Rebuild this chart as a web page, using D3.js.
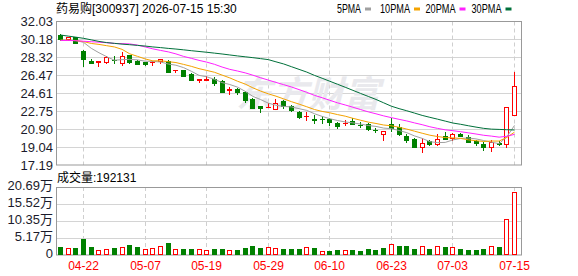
<!DOCTYPE html>
<html>
<head>
<meta charset="utf-8">
<script src="https://cdn.jsdelivr.net/npm/d3@7"></script>
<style>
  body { margin: 0; background: #fff; }
  svg text { font-family: Arial, "Liberation Sans", "Noto Sans CJK SC", sans-serif; }
</style>
</head>
<body>
<svg id="chart" width="578" height="276"></svg>
<script>
// trading days shown (60 candles)
const dates = ['04-17','04-20','04-21','04-22','04-23','04-24','04-27','04-28','04-29','04-30',
  '05-06','05-07','05-08','05-11','05-12','05-13','05-14','05-15','05-18','05-19',
  '05-20','05-21','05-22','05-25','05-26','05-27','05-28','05-29','06-01','06-02',
  '06-03','06-04','06-05','06-08','06-09','06-10','06-11','06-12','06-15','06-16',
  '06-17','06-18','06-22','06-23','06-24','06-25','06-26','06-29','06-30','07-01',
  '07-02','07-03','07-06','07-07','07-08','07-09','07-10','07-13','07-14','07-15'];

const opens  = [30.60,30.17,30.41,29.00,27.98,27.86,27.88,28.05,27.73,28.53,
  27.98,27.85,27.84,27.98,27.90,26.97,26.98,26.55,26.00,26.03,
  26.05,25.85,24.97,25.02,24.74,24.06,23.27,23.15,23.03,23.79,
  23.27,22.68,22.25,21.92,21.94,21.93,21.50,21.52,21.72,21.33,
  21.38,20.80,20.35,21.38,21.07,20.18,19.84,19.08,19.63,19.32,
  20.18,19.94,20.38,20.10,19.66,19.36,19.02,19.43,19.32,22.31];
const highs  = [30.76,30.45,30.45,29.05,28.15,27.92,28.42,28.50,28.83,28.60,
  28.00,27.88,27.90,28.20,28.00,27.00,27.05,26.70,26.08,26.40,
  26.25,25.95,25.26,25.20,24.80,24.13,23.27,23.55,23.99,23.89,
  23.44,22.75,22.68,22.34,22.24,22.06,21.65,21.83,22.06,21.59,
  21.52,21.03,20.72,22.00,21.48,20.38,19.98,19.94,19.77,20.38,
  20.62,20.52,20.45,20.28,19.77,19.60,19.77,19.66,23.14,26.80];
const lows   = [30.00,30.05,29.73,27.32,27.60,27.36,27.67,27.67,27.46,27.60,
  27.58,27.46,27.46,27.60,26.74,26.70,26.40,25.95,25.70,25.85,
  25.35,24.70,24.47,24.47,23.60,22.96,22.52,23.15,22.86,23.03,
  22.68,21.93,21.76,21.38,21.40,21.24,20.87,21.24,21.31,20.98,
  20.69,20.46,19.70,20.62,20.18,19.43,19.04,18.46,19.15,19.15,
  19.77,19.70,20.10,19.43,19.15,18.67,18.56,19.15,18.97,22.31];
const closes = [30.20,30.38,29.83,28.15,27.73,27.90,28.35,28.00,28.45,27.88,
  27.62,27.68,27.88,28.15,26.85,26.99,26.43,26.00,26.05,26.08,
  25.70,24.74,25.00,24.71,23.89,23.10,23.08,23.17,23.61,23.27,
  22.86,22.17,22.28,21.88,21.90,21.65,21.24,21.55,21.38,21.30,
  20.90,20.76,20.70,21.06,20.38,19.77,19.08,19.43,19.35,19.90,
  19.87,20.38,20.18,19.59,19.43,19.02,19.53,19.40,23.14,25.33];
const volumes = [25400,20300,21300,48700,24300,14200,18300,21300,23300,30400,
  24300,18300,20300,27400,36500,18300,18300,18300,18300,15200,
  18300,18300,14200,15200,20300,27400,22300,24300,21300,18300,
  18300,18300,24300,20300,11200,12200,15200,14200,15200,12200,
  18300,15200,20300,34500,27400,27400,18300,26400,18300,26400,
  24300,23300,18300,15200,15200,18300,26400,24300,109500,192131];

const ma5Head  = [30.09,30.09,30.07,29.87];
const ma10Head = [30.10,30.09,30.05,29.95,29.76,29.66,29.53,29.40,29.15];
const ma20Head = [30.07,30.07,30.04,29.99,29.94,29.89,29.84,29.76,29.74,29.71,
  29.59,29.40,29.20,29.04,28.89,28.68,28.42,28.22,28.01];
// the 30PMA line does not follow the visible closes, so it is read off the chart in full
const ma30Values = [30.63,30.52,30.41,30.29,30.13,29.97,29.85,29.77,29.69,29.63,
  29.56,29.49,29.40,29.33,29.25,29.18,29.10,29.01,28.93,28.85,
  28.76,28.67,28.57,28.47,28.38,28.29,28.19,28.09,27.86,27.64,
  27.36,27.08,26.80,26.46,26.16,25.85,25.54,25.23,24.91,24.59,
  24.28,23.97,23.62,23.27,23.02,22.80,22.56,22.32,22.12,21.93,
  21.73,21.53,21.40,21.25,21.11,20.98,20.90,20.87,20.84,20.81];

const priceTicks = [17.19,19.04,20.90,22.75,24.61,26.47,28.32,30.18,32.03];
const volTicks = [0,51700,103500,155200,206900];
const volTickLabels = ['0','5.17万','10.35万','15.52万','20.69万'];
const xTickLabels = ['04-22','05-07','05-19','05-29','06-10','06-23','07-03','07-15'];
const maNames = ['5PMA','10PMA','20PMA','30PMA'];
const maColors = ['#a0a0a0','#f4a300','#ff20ff','#00703a'];

const RED = '#ff0000', GREEN = '#008000';

function movingAvg(n, head) {
  return closes.map((c, i) => i < head.length ? head[i] : d3.mean(closes.slice(i - n + 1, i + 1)));
}
const maSeries = [movingAvg(5, ma5Head), movingAvg(10, ma10Head), movingAvg(20, ma20Head), ma30Values];

const svg = d3.select('#chart');
const L = 56, R = 522;
const x = d3.scalePoint().domain(dates).range([60, 514]);
const y = d3.scaleLinear().domain([17.19, 32.03]).range([165, 21.5]);
const yv = d3.scaleLinear().domain([0, 206900]).range([255, 187]);
const px = d => Math.round(x(d));

// title + legend
svg.append('text').attr('x', 56).attr('y', 13).attr('font-size', 12).attr('fill', '#000')
  .text('药易购[300937] 2026-07-15 15:30');
const legX = [337, 380, 425.5, 471.5];
maNames.forEach((n, i) => {
  svg.append('text').attr('x', legX[i]).attr('y', 13).attr('font-size', 12)
    .attr('textLength', n.length * 6).attr('lengthAdjust', 'spacingAndGlyphs').text(n);
  svg.append('rect').attr('x', legX[i] + n.length * 6 + 4).attr('y', 7.5)
    .attr('width', 6).attr('height', 3).attr('fill', maColors[i]);
});

// grids
const grid = svg.append('g');
priceTicks.slice(1, -1).forEach(t => {
  grid.append('line').attr('x1', L).attr('x2', R)
    .attr('y1', Math.round(y(t)) + 0.5).attr('y2', Math.round(y(t)) + 0.5)
    .attr('stroke', '#d4d4d4');
});
volTicks.slice(1, -1).forEach(t => {
  grid.append('line').attr('x1', L).attr('x2', R)
    .attr('y1', Math.round(yv(t)) + 0.5).attr('y2', Math.round(yv(t)) + 0.5)
    .attr('stroke', '#d4d4d4');
});
xTickLabels.forEach(d => {
  [[21.5, 165], [187, 255]].forEach(([a, b]) => {
    grid.append('line').attr('x1', px(d) + 0.5).attr('x2', px(d) + 0.5)
      .attr('y1', a).attr('y2', b).attr('stroke', '#cfcfcf').attr('stroke-dasharray', '4,3');
  });
});

// frames
svg.append('rect').attr('x', L + 0.5).attr('y', 21.5).attr('width', R - L - 1).attr('height', 143.5)
  .attr('fill', 'none').attr('stroke', '#999');
svg.append('rect').attr('x', L + 0.5).attr('y', 187.5).attr('width', R - L - 1).attr('height', 67.5)
  .attr('fill', 'none').attr('stroke', '#999');

// watermark
svg.append('text').attr('x', 236).attr('y', 107).attr('font-size', 36).attr('font-weight', 'bold')
  .attr('font-family', '"Noto Sans CJK SC"').attr('fill', '#e9e9ed')
  .attr('font-style', 'italic').text('东方财富');

// axis labels
svg.append('g').selectAll('text').data(priceTicks).join('text')
  .attr('x', 53).attr('y', d => y(d)).attr('dy', '0.36em').attr('text-anchor', 'end')
  .attr('font-size', 13).attr('fill', '#1b1b2b').text(d => d.toFixed(2));
svg.append('g').selectAll('text').data(volTicks).join('text')
  .attr('x', 53).attr('y', d => yv(d) - 1.5).attr('dy', '0.36em').attr('text-anchor', 'end')
  .attr('font-size', 13).attr('fill', '#1b1b2b').text((d, i) => volTickLabels[i]);
svg.append('g').selectAll('text').data(xTickLabels).join('text')
  .attr('x', d => px(d) + 0.5).attr('y', 270).attr('text-anchor', 'middle')
  .attr('font-size', 12).attr('fill', RED).text(d => d);
svg.append('text').attr('x', 57).attr('y', 182).attr('font-size', 12).attr('fill', '#000')
  .text('成交量:' + volumes[volumes.length - 1]);

// candles
const rising = (i) => closes[i] > opens[i] || (closes[i] === opens[i] && closes[i] >= (i ? closes[i - 1] : opens[i]));
const candles = svg.append('g');
dates.forEach((d, i) => {
  const cx = px(d);
  const up = rising(i);
  const col = up ? RED : GREEN;
  const top = Math.round(y(Math.max(opens[i], closes[i])));
  const bot = Math.round(y(Math.min(opens[i], closes[i])));
  const hi = Math.round(y(highs[i])), lo = Math.round(y(lows[i]));
  candles.append('line').attr('x1', cx + 0.5).attr('x2', cx + 0.5).attr('y1', hi).attr('y2', top)
    .attr('stroke', col);
  candles.append('line').attr('x1', cx + 0.5).attr('x2', cx + 0.5).attr('y1', bot).attr('y2', lo)
    .attr('stroke', col);
  if (bot - top < 1) {
    candles.append('rect').attr('x', cx - 2).attr('y', top).attr('width', 5).attr('height', 1).attr('fill', col);
  } else if (up) {
    candles.append('rect').attr('x', cx - 1.5).attr('y', top + 0.5).attr('width', 4).attr('height', bot - top)
      .attr('fill', '#fff').attr('stroke', col);
  } else {
    candles.append('rect').attr('x', cx - 2).attr('y', top).attr('width', 5).attr('height', bot - top + 1)
      .attr('fill', col);
  }
});

// moving averages
const line = d3.line().x((v, i) => x(dates[i]) + 0.5).y(v => y(v));
maSeries.forEach((s, k) => {
  svg.append('path').attr('d', line(s)).attr('fill', 'none').attr('stroke', maColors[k]).attr('stroke-width', 1);
});

// volume bars: colour by close against the previous close
const vol = svg.append('g');
dates.forEach((d, i) => {
  const cx = px(d);
  const up = closes[i] >= (i ? closes[i - 1] : opens[i]);
  const t = Math.round(yv(volumes[i]));
  if (up) {
    vol.append('rect').attr('x', cx - 1.5).attr('y', t + 0.5).attr('width', 4).attr('height', 254 - t)
      .attr('fill', '#fff').attr('stroke', RED);
  } else {
    vol.append('rect').attr('x', cx - 2).attr('y', t).attr('width', 5).attr('height', 255 - t).attr('fill', GREEN);
  }
});
</script>
</body>
</html>
